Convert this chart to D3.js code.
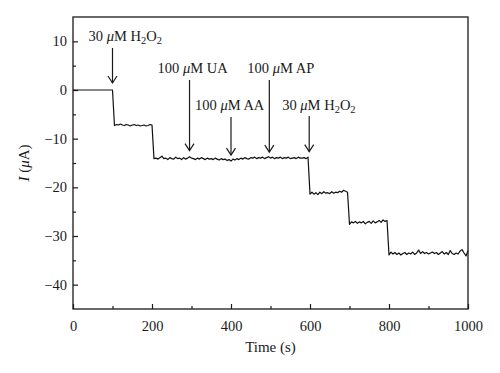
<!DOCTYPE html>
<html><head><meta charset="utf-8">
<script src="https://cdn.jsdelivr.net/npm/d3@7"></script>
<style>body{margin:0;background:#fff}svg{display:block}text{font-family:"Liberation Serif","Times New Roman",serif;fill:#1a1a1a}</style>
</head><body><svg id="c" width="500" height="373"></svg>
<script>
const timeS = [0,5,10,15,20,25,30,35,40,45,50,55,60,65,70,75,80,85,90,95,100,
105,110,115,120,125,130,135,140,145,150,155,160,165,170,175,180,185,190,195,200,
205,210,215,220,225,230,235,240,245,250,255,260,265,270,275,280,285,290,295,300,
305,310,315,320,325,330,335,340,345,350,355,360,365,370,375,380,385,390,395,400,
405,410,415,420,425,430,435,440,445,450,455,460,465,470,475,480,485,490,495,500,
505,510,515,520,525,530,535,540,545,550,555,560,565,570,575,580,585,590,595,600,
605,610,615,620,625,630,635,640,645,650,655,660,665,670,675,680,685,690,695,700,
705,710,715,720,725,730,735,740,745,750,755,760,765,770,775,780,785,790,795,800,
805,810,815,820,825,830,835,840,845,850,855,860,865,870,875,880,885,890,895,900,
905,910,915,920,925,930,935,940,945,950,955,960,965,970,975,980,985,990,995,1000];
const currentUA = [0,0,0,0,0,0,0,0,0,0,0,0,0,0,0,0,0,0,0,0,0,
-7.3,-7.1,-7.2,-7.0,-7.2,-7.3,-7.1,-7.2,-7.4,-7.2,-7.1,-7.3,-7.2,-7.4,-7.3,-7.2,-7.4,-7.3,-7.1,-7.2,
-14.1,-14.0,-14.2,-13.9,-13.6,-14.1,-14.0,-14.3,-13.9,-14.1,-14.2,-13.8,-14.1,-14.0,-14.3,-13.9,-14.2,-14.0,-13.7,-14.0,
-14.1,-14.3,-14.0,-14.2,-13.9,-14.1,-14.3,-14.0,-14.2,-14.1,-14.3,-14.0,-14.2,-14.4,-14.1,-14.3,-14.2,-14.5,-14.3,-14.6,
-14.2,-14.4,-14.1,-14.3,-14.0,-14.2,-13.9,-14.1,-14.2,-13.9,-14.0,-13.8,-14.1,-13.9,-14.0,-13.8,-14.1,-13.9,-13.7,-14.0,
-13.8,-14.1,-13.9,-14.0,-13.8,-14.1,-13.9,-14.0,-13.8,-14.1,-14.0,-13.9,-14.1,-13.8,-14.0,-14.0,-13.9,-14.1,-13.8,-21.4,
-21.0,-21.4,-21.1,-21.5,-21.0,-21.3,-20.9,-21.2,-21.1,-21.3,-20.9,-21.2,-21.0,-21.1,-20.8,-21.0,-20.6,-20.8,-21.0,-27.6,
-27.1,-27.3,-27.0,-27.4,-27.1,-27.3,-27.0,-27.5,-27.2,-27.0,-27.4,-26.9,-27.3,-27.1,-26.8,-27.2,-26.7,-27.0,-26.8,-33.9,
-33.3,-33.7,-33.4,-33.8,-33.5,-33.9,-33.6,-33.4,-33.8,-33.5,-33.7,-33.3,-33.8,-33.5,-32.9,-33.6,-33.2,-33.6,-33.4,-33.7,
-33.5,-33.3,-33.6,-33.4,-33.8,-33.5,-33.2,-33.7,-33.4,-33.8,-33.0,-33.6,-33.8,-33.5,-33.7,-33.1,-32.8,-33.5,-34.1,-33.0];
const xTicks = [0,200,400,600,800,1000];
const xMinor = [100,300,500,700,900];
const yTicks = [10,0,-10,-20,-30,-40];
const yMinor = [5,-5,-15,-25,-35];
const annoTime = [100,295,400,497,598];
const annoConc = ["30","100","100","100","30"];
const annoSpecies = ["H2O2","UA","AA","AP","H2O2"];

const svg = d3.select("#c");
const m = {l:73, r:32, t:17, b:64};
const W = 500, H = 373;
const x = d3.scaleLinear().domain([0,1000]).range([m.l, W-m.r]);
const y = d3.scaleLinear().domain([-45,15]).range([H-m.b, m.t]);
const ink = "#1a1a1a";

// frame
svg.append("rect").attr("x",m.l).attr("y",m.t).attr("width",W-m.r-m.l).attr("height",H-m.b-m.t)
  .attr("fill","none").attr("stroke",ink).attr("stroke-width",1.3);

// axes (inward ticks)
const gx = svg.append("g").attr("transform",`translate(0,${H-m.b})`)
  .call(d3.axisBottom(x).tickValues(xTicks).tickSizeInner(-5).tickSizeOuter(0).tickPadding(12).tickFormat(d3.format("d")));
const gxm = svg.append("g").attr("transform",`translate(0,${H-m.b})`)
  .call(d3.axisBottom(x).tickValues(xMinor).tickSizeInner(-3).tickSizeOuter(0).tickFormat(""));
const gy = svg.append("g").attr("transform",`translate(${m.l},0)`)
  .call(d3.axisLeft(y).tickValues(yTicks).tickSizeInner(-5).tickSizeOuter(0).tickPadding(6).tickFormat(d=>d<0?"\u2212"+(-d):d));
const gym = svg.append("g").attr("transform",`translate(${m.l},0)`)
  .call(d3.axisLeft(y).tickValues(yMinor).tickSizeInner(-3).tickSizeOuter(0).tickFormat(""));
[gx,gxm,gy,gym].forEach(g=>{
  g.select(".domain").remove();
  g.selectAll("line").attr("stroke",ink).attr("stroke-width",1.2);
  g.selectAll("text").attr("font-size",14.5).attr("fill",ink).style("font-family",'"Liberation Serif",serif');
});
gx.selectAll("text").attr("dy","0.71em").attr("y",12);

// axis titles
svg.append("text").attr("x",(m.l+W-m.r)/2).attr("y",352).attr("text-anchor","middle").attr("font-size",15).text("Time (s)");
const yt = svg.append("text").attr("transform",`translate(29,${(m.t+H-m.b)/2}) rotate(-90)`).attr("text-anchor","middle").attr("font-size",15);
yt.append("tspan").attr("font-style","italic").text("I");
yt.append("tspan").text(" (");
yt.append("tspan").attr("font-style","italic").text("\u03bc");
yt.append("tspan").text("A)");

// data line
const pts = timeS.map((t,i)=>[t,currentUA[i]]);
svg.append("path").datum(pts).attr("fill","none").attr("stroke","#111").attr("stroke-width",1.2)
  .attr("stroke-linejoin","round")
  .attr("d",d3.line().x(d=>x(d[0])).y(d=>y(d[1])));

// annotations
const labelY = [41,73,110,73,110];
const labelDx = [-24,-32,-36,-22,-27];
const arrowTop = [48,80,117,80,116];
const arrowTipGap = [7,6,6,6,6];
function valueAt(t){ const i = d3.bisectLeft(timeS,t); return currentUA[Math.min(i,currentUA.length-1)]; }
annoTime.forEach((t,i)=>{
  const ax = x(t);
  const tipVal = i===0 ? 0 : (i===4 ? -13.9 : valueAt(t));
  const tip = y(tipVal) - arrowTipGap[i];
  svg.append("line").attr("x1",ax).attr("x2",ax).attr("y1",arrowTop[i]).attr("y2",tip)
    .attr("stroke",ink).attr("stroke-width",1.2);
  svg.append("path").attr("d",`M${ax-4.5},${tip-7}L${ax},${tip}L${ax+4.5},${tip-7}`)
    .attr("fill","none").attr("stroke",ink).attr("stroke-width",1.2);
  const tx = svg.append("text").attr("x",ax+labelDx[i]).attr("y",labelY[i]).attr("font-size",14.5);
  tx.append("tspan").text(annoConc[i]+" ");
  tx.append("tspan").attr("font-style","italic").text("\u03bc");
  tx.append("tspan").text("M ");
  if(annoSpecies[i]==="H2O2"){
    tx.append("tspan").text("H");
    tx.append("tspan").attr("font-size",10.5).attr("dy",3).text("2");
    tx.append("tspan").attr("dy",-3).text("O");
    tx.append("tspan").attr("font-size",10.5).attr("dy",3).text("2");
  } else {
    tx.append("tspan").text(annoSpecies[i]);
  }
});
</script></body></html>
